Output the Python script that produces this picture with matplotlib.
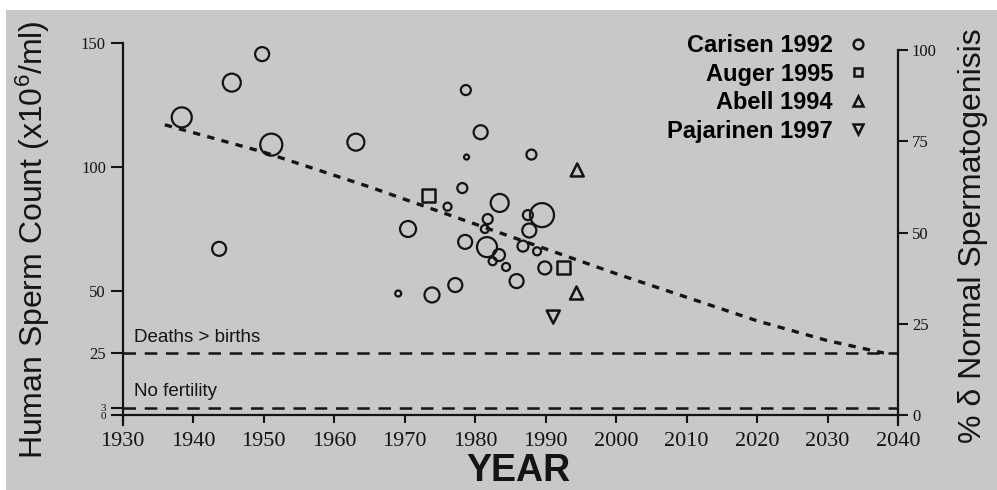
import matplotlib
matplotlib.use('Agg')
import matplotlib.pyplot as plt
from matplotlib.lines import Line2D
from matplotlib.patches import Rectangle

# Carlsen 1992 studies: year, mean count (x10^6/ml), relative study size
carlsen_year = [1938.4, 1945.5, 1949.8, 1951.1, 1963.1, 1943.7, 1970.5, 1969.1,
                1978.7, 1980.8, 1978.8, 1988.0, 1978.2, 1976.1, 1983.5, 1989.5,
                1987.5, 1987.7, 1981.8, 1981.4, 1978.6, 1981.7, 1983.4, 1984.4,
                1986.8, 1988.8, 1985.9, 1989.9, 1977.2, 1973.9, 1982.5]
carlsen_count = [120, 134, 145.5, 109, 110, 67, 75, 49,
                 131, 114, 104, 105, 91.5, 84, 85.5, 80.6,
                 80.6, 74.4, 79, 75, 69.8, 67.7, 64.5, 59.7,
                 68.1, 66, 54, 59.3, 52.4, 48.4, 62]
carlsen_weight = [20, 18, 14, 22, 17, 14, 16, 6,
                  10, 14, 5, 10, 10, 8, 18, 24,
                  10, 14, 10, 8, 14, 20, 12, 8,
                  11, 8, 14, 13, 14, 15, 8]

auger_year = [1973.4, 1992.5]
auger_count = [88.5, 59.3]
abell_year = [1994.5, 1994.4]
abell_count = [98.8, 49.2]
pajarinen_year = [1991.1]
pajarinen_count = [39.5]

# projected decline
trend_year = [1936, 1950, 1965, 1980, 2000, 2020, 2030, 2038]
trend_count = [117, 106, 92, 77, 57, 38, 30, 25]

deaths_level = 25
no_fertility_level = 3

year_ticks = list(range(1930, 2041, 10))
count_ticks = [0, 3, 25, 50, 100, 150]
percent_ticks = [0, 25, 50, 75, 100]

legend_labels = ['Carisen 1992', 'Auger 1995', 'Abell 1994', 'Pajarinen 1997']

BG = '#c8c8c8'
INK = '#141414'
SANS = 'Liberation Sans'
plt.rcParams['font.family'] = 'Liberation Serif'
plt.rcParams['mathtext.fontset'] = 'custom'
plt.rcParams['mathtext.rm'] = SANS
plt.rcParams['mathtext.it'] = SANS + ':italic'

fig = plt.figure(figsize=(9.97, 4.9), dpi=100, facecolor=BG)
fig.add_artist(Rectangle((0, 1 - 10 / 490), 1, 10 / 490, transform=fig.transFigure,
                         fc='white', ec='none', zorder=-10))
fig.add_artist(Rectangle((0, 0), 6 / 997, 1, transform=fig.transFigure,
                         fc='white', ec='none', zorder=-10))

ax = fig.add_axes([0.1229, 0.1327, 0.7778, 0.7898])
ax.patch.set_alpha(0)
ax.set_xlim(1930, 2040)
ax.set_ylim(-4, 152)
ratio = 0.68
ax2 = ax.twinx()
ax2.set_ylim(-4 * ratio, 152 * ratio)

for s in ['top', 'right']:
    ax.spines[s].set_visible(False)
for s in ['top', 'left', 'bottom']:
    ax2.spines[s].set_visible(False)
ax.spines['bottom'].set_position(('data', 0))
ax.spines['left'].set_bounds(-4, 150)
ax2.spines['right'].set_bounds(-4 * ratio, 100)
for sp in [ax.spines['bottom'], ax.spines['left'], ax2.spines['right']]:
    sp.set_linewidth(1.6)
    sp.set_color(INK)

ax.set_xticks(year_ticks)
ax.set_xticklabels([str(y) for y in year_ticks])
ax.tick_params(axis='x', direction='out', length=6, width=1.5, pad=6,
               labelsize=16, colors=INK)
ax.set_yticks(count_ticks)
ax.set_yticklabels([str(c) for c in count_ticks])
ax.tick_params(axis='y', direction='out', length=9, width=1.5, pad=3,
               labelsize=12, colors=INK)
for lab in ax.get_yticklabels():
    if lab.get_text() in ('0', '3'):
        lab.set_fontsize(8)
ax2.set_yticks(percent_ticks)
ax2.set_yticklabels([str(p) for p in percent_ticks])
ax2.tick_params(axis='y', direction='out', length=7, width=1.5, pad=3,
                labelsize=12, colors=INK)

# reference levels
ax.axhline(deaths_level, color=INK, lw=1.8, dashes=(5, 3.5))
ax.axhline(no_fertility_level, color=INK, lw=1.8, dashes=(5, 3.5))
ax.text(1931.6, deaths_level + 3, 'Deaths > births', fontsize=13.5,
        family=SANS, color=INK, va='bottom')
ax.text(1931.6, no_fertility_level + 3, 'No fertility', fontsize=13.5,
        family=SANS, color=INK, va='bottom')

ax.plot(trend_year, trend_count, color=INK, lw=2.4, dashes=(2.2, 2.2), zorder=2)

# study points
areas = [(0.72 * w) ** 2 for w in carlsen_weight]
ax.scatter(carlsen_year, carlsen_count, s=areas, facecolors='none',
           edgecolors=INK, linewidths=1.6, zorder=3)
ax.scatter(auger_year, auger_count, s=(0.72 * 13) ** 2, marker='s',
           facecolors='none', edgecolors=INK, linewidths=1.8, zorder=3)
ax.scatter(abell_year, abell_count, s=(0.72 * 13) ** 2, marker='^',
           facecolors='none', edgecolors=INK, linewidths=1.8, zorder=3)
ax.scatter(pajarinen_year, pajarinen_count, s=(0.72 * 13) ** 2, marker='v',
           facecolors='none', edgecolors=INK, linewidths=1.8, zorder=3)

handles = [Line2D([], [], ls='none', marker=m, ms=ms, mfc='none', mec=INK, mew=1.8)
           for m, ms in [('o', 7), ('s', 6), ('^', 7), ('v', 7)]]
ax.legend(handles, legend_labels, loc='upper right', bbox_to_anchor=(0.8686, 0.930),
          bbox_transform=fig.transFigure, frameon=False, markerfirst=False,
          prop={'family': SANS, 'weight': 'bold', 'size': 17},
          handlelength=0.7, handletextpad=0.7, labelspacing=0.23,
          borderpad=0, borderaxespad=0)

fig.text(0.033, 0.51, 'Human Sperm Count (x10$^{6}$/ml)', rotation=90,
         ha='center', va='center', fontsize=23, family=SANS, color=INK)
fig.text(0.976, 0.52, '% δ Normal Spermatogenisis', rotation=90,
         ha='center', va='center', fontsize=23, family=SANS, color=INK)
fig.text(0.52, 1 - 481 / 490, 'YEAR', ha='center', va='baseline',
         fontsize=27, weight='bold', family=SANS, color=INK)

fig.savefig('out.png', dpi=100, facecolor=BG)
